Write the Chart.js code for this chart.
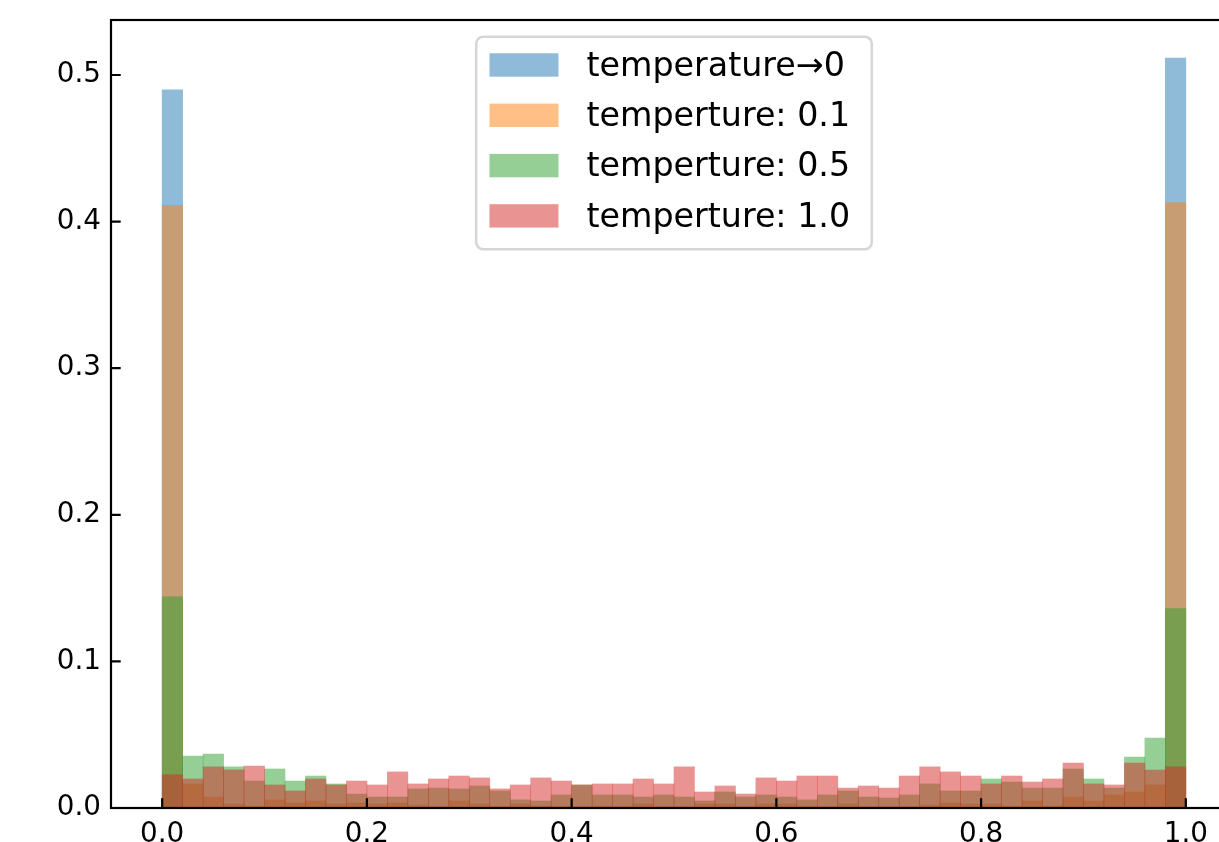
<!DOCTYPE html>
<html>
<head>
<meta charset="utf-8">
<script src="https://cdn.jsdelivr.net/npm/chart.js@4/dist/chart.umd.min.js"></script>
<style>
  html, body { margin: 0; padding: 0; background: #fff; overflow: hidden; }
  #wrap { width: 1260px; height: 842px; }
</style>
</head>
<body>
<div id="wrap"><canvas id="hist" width="1260" height="842"></canvas></div>
<script>
// 50 bins between 0 and 1, values are bin weights
const binCount = 50;
const seriesLabels = ['temperature\u21920', 'temperture: 0.1', 'temperture: 0.5', 'temperture: 1.0'];

const tempZero = [
    0.4898, 0, 0, 0, 0, 0, 0, 0, 0, 0,
    0, 0, 0, 0, 0, 0, 0, 0, 0, 0,
    0, 0, 0, 0, 0, 0, 0, 0, 0, 0,
    0, 0, 0, 0, 0, 0, 0, 0, 0, 0,
    0, 0, 0, 0, 0, 0, 0, 0, 0, 0.5116
];
const temp01 = [
    0.411, 0.0164, 0.0075, 0.0027, 0.0014, 0.0055, 0.0034, 0.0048, 0.0027, 0.0034,
    0.0027, 0.0034, 0.002, 0.001, 0.0048, 0.0027, 0.001, 0.0027, 0.0014, 0.001,
    0.001, 0.0014, 0.001, 0.0027, 0.001, 0.001, 0.0027, 0.0027, 0.001, 0.0027,
    0.0027, 0.0014, 0.001, 0.0027, 0.001, 0.001, 0.001, 0.002, 0.0034, 0.0027,
    0.0027, 0.0014, 0.0048, 0.0014, 0.0075, 0.0048, 0.0089, 0.0109, 0.0157, 0.413
];
const temp05 = [
    0.144, 0.0355, 0.0368, 0.028, 0.0184, 0.0266, 0.0184, 0.0218, 0.0164, 0.0095,
    0.0075, 0.0075, 0.013, 0.0136, 0.013, 0.015, 0.0116, 0.0055, 0.0048, 0.0089,
    0.0157, 0.0089, 0.0089, 0.0075, 0.0089, 0.0075, 0.0048, 0.0109, 0.0075, 0.0089,
    0.0075, 0.0055, 0.0089, 0.0116, 0.0075, 0.0068, 0.0089, 0.0164, 0.0116, 0.0116,
    0.0198, 0.0177, 0.0136, 0.0136, 0.0266, 0.0198, 0.0136, 0.0348, 0.0477, 0.136
];
const temp10 = [
    0.0227, 0.0198, 0.028, 0.026, 0.0286, 0.0157, 0.0116, 0.0198, 0.0157, 0.0184,
    0.0157, 0.0246, 0.0164, 0.0198, 0.0218, 0.0205, 0.013, 0.0157, 0.0205, 0.0184,
    0.0157, 0.0164, 0.0164, 0.0198, 0.0164, 0.028, 0.0109, 0.015, 0.0095, 0.0205,
    0.0184, 0.0218, 0.0218, 0.0136, 0.015, 0.0136, 0.0218, 0.028, 0.0246, 0.0218,
    0.0164, 0.0218, 0.0177, 0.0198, 0.0307, 0.0164, 0.0157, 0.0307, 0.0259, 0.028
];

const xTicks = [0.0, 0.2, 0.4, 0.6, 0.8, 1.0];
const yTicks = [0.0, 0.1, 0.2, 0.3, 0.4, 0.5];

const colors = ['rgba(31,119,180,0.5)', 'rgba(255,127,14,0.5)', 'rgba(44,160,44,0.5)', 'rgba(214,39,40,0.5)'];
const FONT = '"DejaVu Sans", sans-serif';

const binCenters = Array.from({ length: binCount }, (_, i) => (i + 0.5) / binCount);
const toPoints = vals => vals.map((v, i) => ({ x: binCenters[i], y: v }));

// no extra room for labels hanging over the plot edges
function noPad(s) {
    s.paddingTop = 0;
    s.paddingBottom = 0;
    s.paddingLeft = 0;
    s.paddingRight = 0;
}

// frame, inward ticks and a matplotlib-like legend inside the axes
const axesDecor = {
    id: 'axesDecor',
    afterDraw(chart) {
        const { ctx, chartArea: a, scales } = chart;
        ctx.save();
        ctx.strokeStyle = '#000';
        ctx.lineWidth = 2.2;
        ctx.strokeRect(a.left, a.top, a.right - a.left, a.bottom - a.top);

        const tickLen = 9.7;
        ctx.beginPath();
        scales.x.ticks.forEach(t => {
            const px = scales.x.getPixelForValue(t.value);
            ctx.moveTo(px, a.bottom);
            ctx.lineTo(px, a.bottom - tickLen);
        });
        scales.y.ticks.forEach(t => {
            const py = scales.y.getPixelForValue(t.value);
            ctx.moveTo(a.left, py);
            ctx.lineTo(a.left + tickLen, py);
        });
        ctx.stroke();

        // legend
        ctx.font = '33.3px ' + FONT;
        const labels = chart.data.datasets.map(d => d.label);
        const textW = Math.max(...labels.map(l => ctx.measureText(l).width));
        const boxW = 110 + textW + 22;
        const boxH = 212.6;
        const bx = (a.left + a.right) / 2 - boxW / 2;
        const by = a.top + 16.7;
        ctx.beginPath();
        ctx.roundRect(bx, by, boxW, boxH, 7);
        ctx.fillStyle = 'rgba(255,255,255,0.8)';
        ctx.fill();
        ctx.strokeStyle = 'rgba(204,204,204,0.8)';
        ctx.lineWidth = 2.5;
        ctx.stroke();

        ctx.textAlign = 'left';
        ctx.textBaseline = 'middle';
        chart.data.datasets.forEach((d, i) => {
            const cy = by + 28.3 + i * 50.3;
            ctx.fillStyle = '#fff';
            ctx.fillRect(bx + 13.3, cy - 11.7, 69, 23.4);
            ctx.fillStyle = d.backgroundColor;
            ctx.fillRect(bx + 13.3, cy - 11.7, 69, 23.4);
            ctx.fillStyle = '#000';
            ctx.fillText(d.label, bx + 110.3, cy + 2);
        });
        ctx.restore();
    }
};

const seriesValues = [tempZero, temp01, temp05, temp10];

new Chart(document.getElementById('hist'), {
    type: 'bar',
    data: {
        datasets: seriesValues.map((vals, i) => ({
            label: seriesLabels[i],
            data: toPoints(vals),
            backgroundColor: colors[i],
            borderWidth: 0,
            barPercentage: 1,
            categoryPercentage: 1,
            grouped: false,
            order: seriesValues.length - i
        }))
    },
    options: {
        responsive: false,
        devicePixelRatio: 1,
        animation: false,
        layout: { padding: { left: 0, top: 20, right: 23, bottom: 0 } },
        plugins: {
            legend: { display: false },
            tooltip: { enabled: false }
        },
        scales: {
            x: {
                type: 'linear',
                min: -0.05,
                max: 1.05,
                offset: false,
                grid: { display: false, drawTicks: false, offset: false },
                border: { display: false },
                afterBuildTicks: s => { s.ticks = xTicks.map(v => ({ value: v })); },
                afterFit: s => { s.height = 34; noPad(s); },
                ticks: {
                    padding: 10,
                    color: '#000',
                    font: { family: FONT, size: 27.8 },
                    maxRotation: 0,
                    callback: v => Number(v).toFixed(1)
                }
            },
            y: {
                type: 'linear',
                min: 0,
                max: 0.5375,
                grid: { display: false, drawTicks: false },
                border: { display: false },
                afterBuildTicks: s => { s.ticks = yTicks.map(v => ({ value: v })); },
                afterFit: s => { s.width = 111; noPad(s); },
                ticks: {
                    padding: 10,
                    color: '#000',
                    font: { family: FONT, size: 27.8 },
                    callback: v => Number(v).toFixed(1)
                }
            }
        }
    },
    plugins: [axesDecor]
});
</script>
</body>
</html>
